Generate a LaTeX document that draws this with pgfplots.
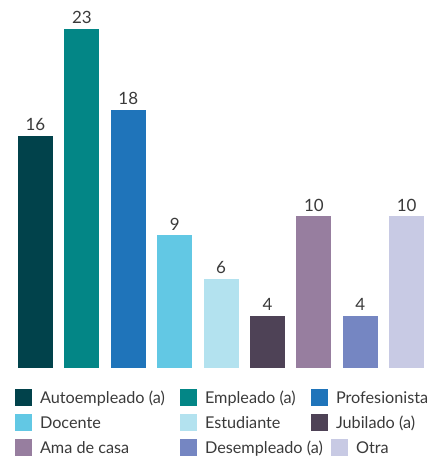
\documentclass[border=0pt]{standalone}
\usepackage{fontspec}
\setmainfont{Lato}
\usepackage{pgfplots}
\pgfplotsset{compat=1.18}
\definecolor{c1}{HTML}{01424B}
\definecolor{c2}{HTML}{038686}
\definecolor{c3}{HTML}{1F74BA}
\definecolor{c4}{HTML}{62C8E4}
\definecolor{c5}{HTML}{B3E2EF}
\definecolor{c6}{HTML}{4E4256}
\definecolor{c7}{HTML}{977E9F}
\definecolor{c8}{HTML}{7586C2}
\definecolor{c9}{HTML}{C8CAE4}
\definecolor{txt}{HTML}{3A3A3A}
\begin{document}
\begin{tikzpicture}[x=1bp,y=1bp]
\begin{axis}[
  at={(12.3bp,88bp)}, anchor=south west,
  scale only axis, width=417.6bp, height=364.25bp,
  xmin=-0.5, xmax=8.5, ymin=0, ymax=25,
  hide axis,
  /pgf/number format/assume math mode=true,
  ybar, bar width=35bp, bar shift=0pt,
  nodes near coords={\pgfmathprintnumber[fixed,precision=0]{\pgfplotspointmeta}},
  every node near coord/.append style={font=\fontsize{17}{17}\selectfont, text=txt, inner sep=0pt, yshift=5bp, anchor=south},
  legend style={at={(0.00647,-0.05765)}, anchor=north west, draw=none, fill=none,
    inner sep=0pt, outer sep=0pt, font=\fontsize{16.3}{16.3}\selectfont, text=txt,
    nodes={inner sep=0pt, text depth=0pt}, row sep=8bp,
    /tikz/every odd column/.style={column sep=8bp}},
  legend cell align=left,
  legend columns=3,
  legend image code/.code={\fill[#1] (0bp,-8.5bp) rectangle (17bp,8.5bp);},
]
\addplot[fill=c1, draw=none] coordinates {(0,15.9)};
\addlegendentry{\makebox[140bp][l]{Autoempleado (a)}}
\addplot[fill=c2, draw=none] coordinates {(1,23.3)};
\addlegendentry{\makebox[106bp][l]{Empleado (a)}}
\addplot[fill=c3, draw=none] coordinates {(2,17.7)};
\addlegendentry{Profesionista}
\addplot[fill=c4, draw=none] coordinates {(3,9.1)};
\addlegendentry{\makebox[140bp][l]{Docente}}
\addplot[fill=c5, draw=none] coordinates {(4,6.1)};
\addlegendentry{\makebox[106bp][l]{Estudiante}}
\addplot[fill=c6, draw=none] coordinates {(5,3.6)};
\addlegendentry{Jubilado (a)}
\addplot[fill=c7, draw=none] coordinates {(6,10.4)};
\addlegendentry{\makebox[140bp][l]{Ama de casa}}
\addplot[fill=c8, draw=none] coordinates {(7,3.6)};
\addlegendentry{\makebox[106bp][l]{Desempleado (a)}}
\addplot[fill=c9, draw=none, legend image code/.code={\path[fill=none,draw=none] (0bp,-8.5bp) rectangle (17bp,8.5bp); \fill[c9,overlay] (20bp,-8.5bp) rectangle (37bp,8.5bp);}] coordinates {(8,10.4)};
\addlegendentry{\hspace*{20bp}Otra}
\end{axis}
\pgfresetboundingbox
\path (0,0) rectangle (429,456);
\end{tikzpicture}
\end{document}
